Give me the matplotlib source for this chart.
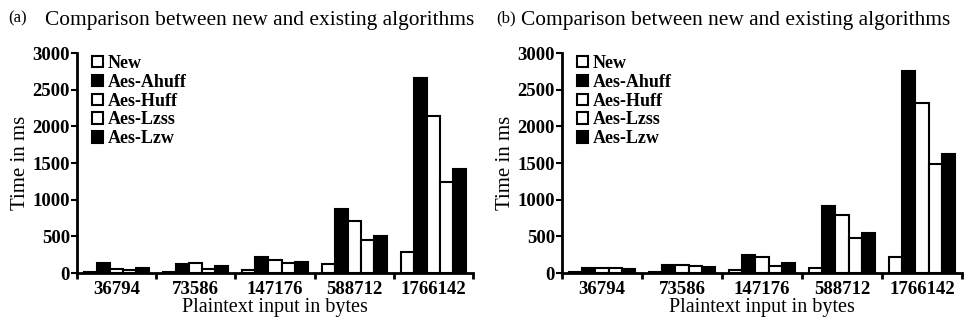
import matplotlib
matplotlib.use("Agg")
import matplotlib.pyplot as plt
import numpy as np

plt.rcParams['font.family'] = ['Liberation Serif', 'DejaVu Serif']

categories = ["36794", "73586", "147176", "588712", "1766142"]
series_names = ["New", "Aes-Ahuff", "Aes-Huff", "Aes-Lzss", "Aes-Lzw"]
series_colors = ["white", "black", "white", "white", "black"]

a_new = [10, 10, 40, 120, 285]
a_ahuff = [140, 125, 225, 875, 2660]
a_huff = [60, 140, 178, 707, 2140]
a_lzss = [45, 50, 135, 452, 1240]
a_lzw = [75, 100, 145, 500, 1420]

b_new = [15, 20, 40, 68, 225]
b_ahuff = [65, 110, 250, 920, 2750]
b_huff = [65, 110, 223, 785, 2325]
b_lzss = [65, 100, 100, 480, 1485]
b_lzw = [60, 85, 132, 548, 1625]

y_ticks = [0, 500, 1000, 1500, 2000, 2500, 3000]
title_text = "Comparison between new and existing algorithms"

W, H = 965, 324
fig = plt.figure(figsize=(W / 100, H / 100), dpi=100)

def draw(ax_rect, series, tag, tag_x, title_x):
    ax = fig.add_axes(ax_rect)
    x = np.arange(len(categories))
    bw = 0.165
    n = len(series)
    handles = []
    for i, (vals, name, col) in enumerate(zip(series, series_names, series_colors)):
        off = (i - (n - 1) / 2) * bw
        h = ax.bar(x + off, vals, width=bw, color=col, edgecolor="black",
                   linewidth=1.5, label=name)
        handles.append(h)
    ax.set_xlim(-0.5, len(categories) - 0.5)
    ax.set_ylim(0, 3000)
    ax.set_xticks(np.arange(len(categories) + 1) - 0.5)
    ax.set_xticklabels([])
    ax.set_xticks(x, minor=True)
    ax.set_xticklabels(categories, minor=True, fontsize=13.5, fontweight="bold")
    ax.tick_params(axis="x", which="minor", length=0, pad=6)
    ax.tick_params(axis="x", which="major", length=4, width=2, direction="out")
    ax.set_yticks(y_ticks)
    ax.set_yticklabels([str(v) for v in y_ticks], fontsize=13.5, fontweight="bold")
    ax.tick_params(axis="y", length=4, width=1.5, pad=1)
    for s in ["top", "right"]:
        ax.spines[s].set_visible(False)
    for s in ["left", "bottom"]:
        ax.spines[s].set_linewidth(2)
    ax.set_xlabel("Plaintext input in bytes", fontsize=14.5, labelpad=0)
    ax.set_ylabel("Time in ms", fontsize=15, labelpad=2)
    leg = ax.legend(handles=handles, loc="upper left", bbox_to_anchor=(0.01, 1.04),
                    frameon=False, fontsize=13, handlelength=0.6, handleheight=0.6,
                    handletextpad=0.3, labelspacing=0.1, borderaxespad=0.2)
    for t in leg.get_texts():
        t.set_fontweight("bold")
    fig.text(tag_x, 1 - 18 / H, tag, fontsize=12, ha="left", va="center")
    fig.text(title_x, 1 - 21 / H, title_text, fontsize=15.4, ha="left", va="center")
    return ax

bottom = 1 - 273 / H
top = 1 - 53 / H
draw([77 / W, bottom, (473 - 77) / W, top - bottom],
     [a_new, a_ahuff, a_huff, a_lzss, a_lzw], "(a)", 8 / W, 45 / W)
draw([562 / W, bottom, (962 - 562) / W, top - bottom],
     [b_new, b_ahuff, b_huff, b_lzss, b_lzw], "(b)", 496 / W, 521 / W)

fig.savefig("out.png", dpi=100)
